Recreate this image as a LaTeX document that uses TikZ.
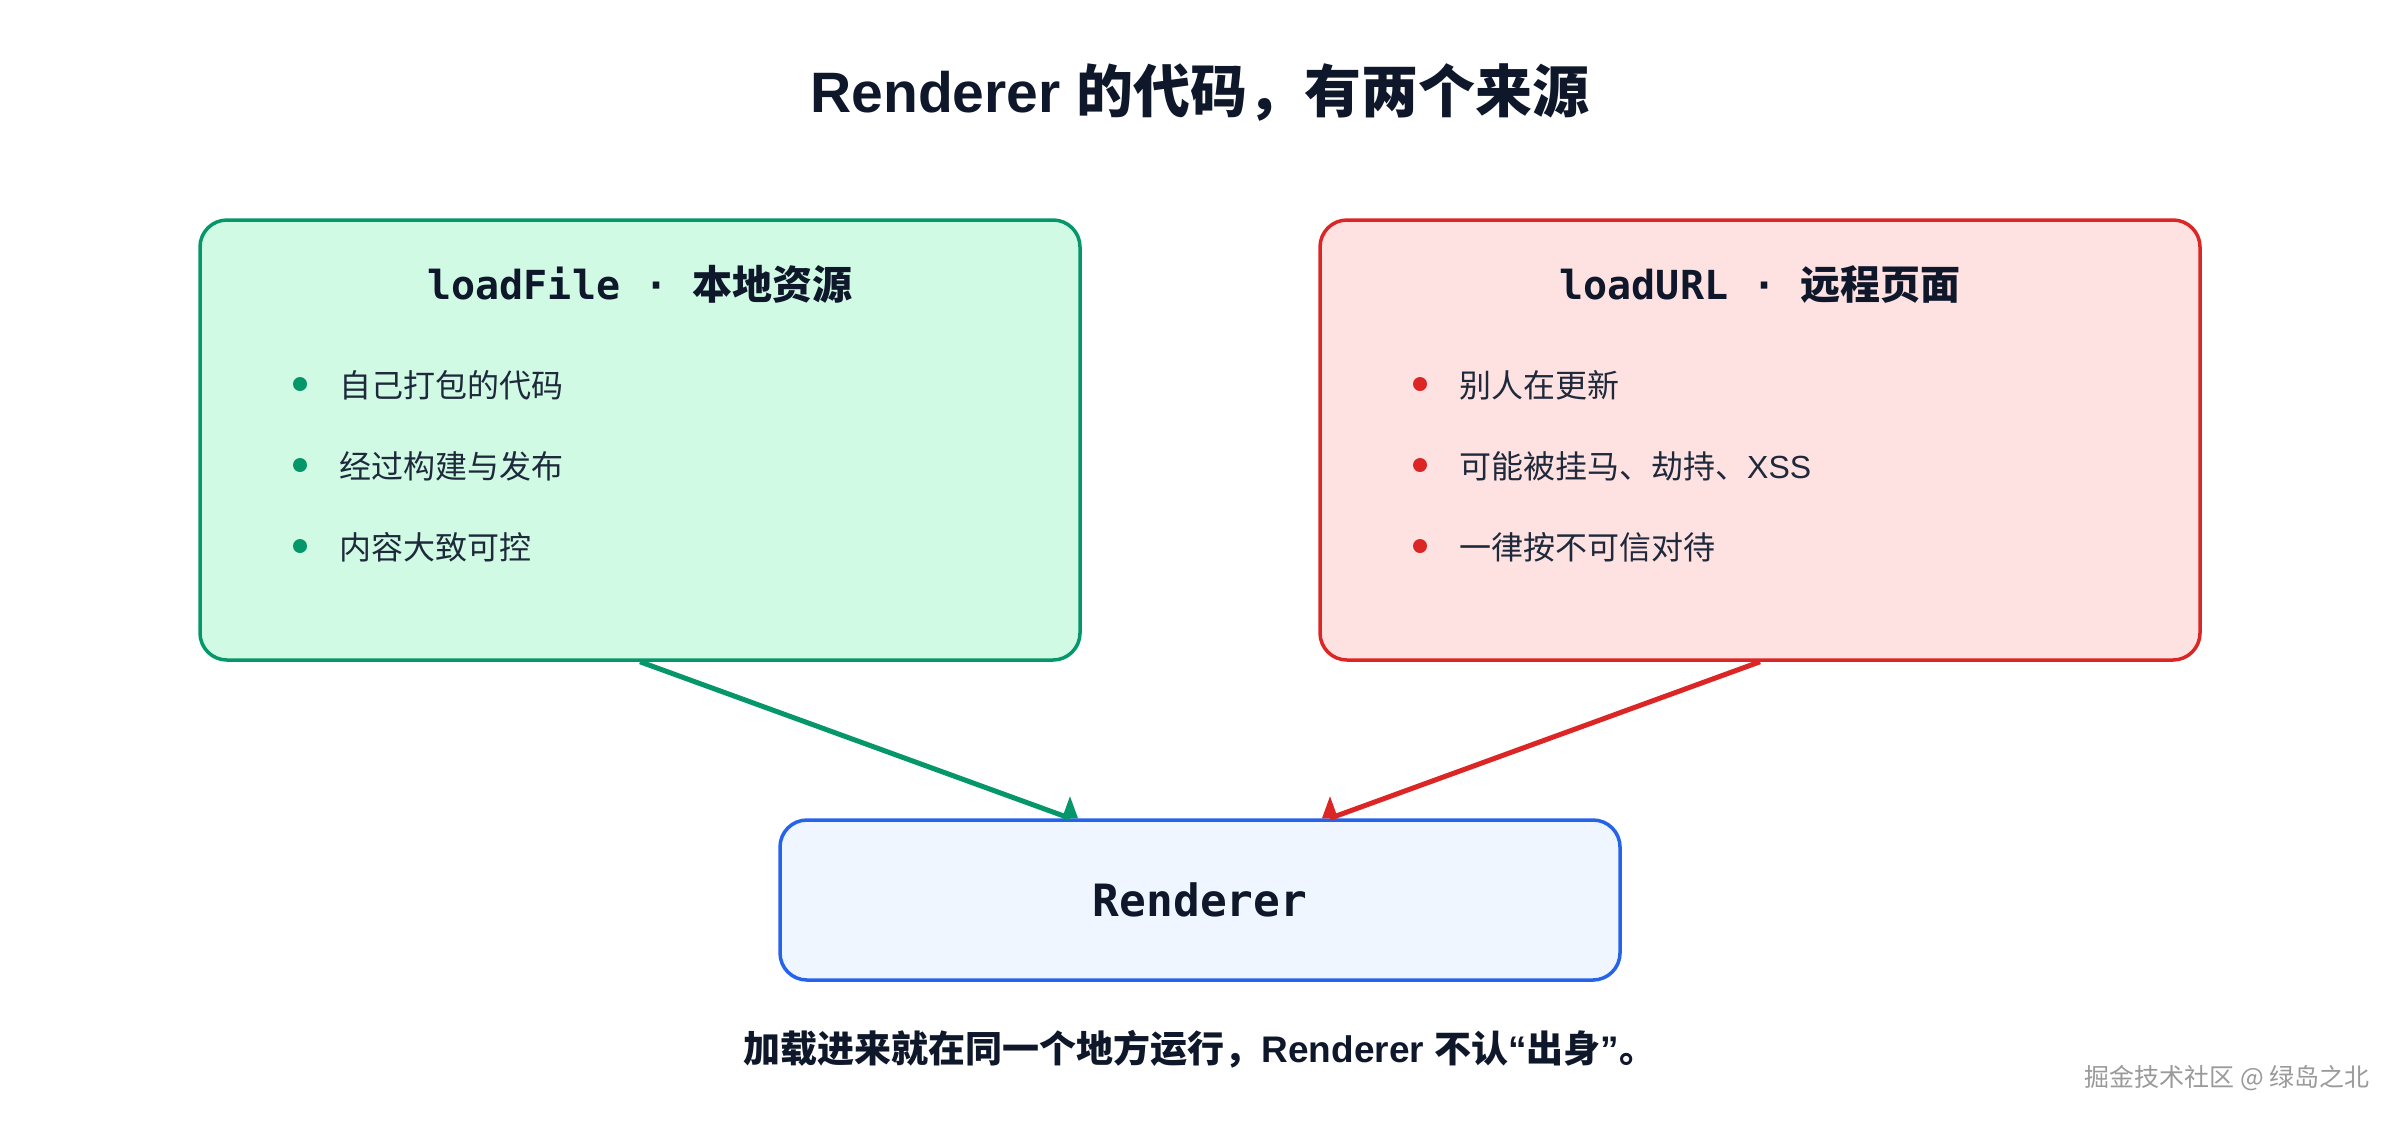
\documentclass[tikz,border=0pt]{standalone}
\usepackage{fontspec}
\setmainfont{Liberation Sans}
\newfontfamily\cjk{Noto Sans CJK SC}
\newfontfamily\monof{DejaVu Sans Mono}
\definecolor{gline}{HTML}{059669}
\definecolor{gfill}{HTML}{D1FAE5}
\definecolor{rline}{HTML}{DC2626}
\definecolor{rfill}{HTML}{FEE2E2}
\definecolor{bline}{HTML}{2563EB}
\definecolor{bfill}{HTML}{EFF6FF}
\definecolor{ttl}{HTML}{0F172A}
\definecolor{itemtxt}{HTML}{1E293B}
\definecolor{wm}{HTML}{9A9A9A}
\tikzset{
  box/.style={draw, line width=3.5pt, rounded corners=27pt, inner sep=0pt},
  gbox/.style={box, draw=gline, fill=gfill, minimum width=880pt, minimum height=440pt},
  rbox/.style={box, draw=rline, fill=rfill, minimum width=880pt, minimum height=440pt},
  bbox/.style={box, draw=bline, fill=bfill, minimum width=840pt, minimum height=160pt,
    text=ttl, font=\monof\bfseries\fontsize{44.5}{53}\selectfont},
  boxtitle/.style={anchor=base, inner sep=0pt, text=ttl, font=\monof\bfseries\fontsize{40}{48}\selectfont},
  dotg/.style={circle, inner sep=0pt, minimum size=14pt, fill=gline},
  dotr/.style={circle, inner sep=0pt, minimum size=14pt, fill=rline},
  item/.style={anchor=west, inner sep=0pt, text=itemtxt, font=\cjk\fontsize{32}{38}\selectfont},
  gconn/.style={draw=gline, line width=5pt},
  rconn/.style={draw=rline, line width=5pt}
}
\begin{document}
\begin{tikzpicture}[x=1pt,y=-1pt]
\useasboundingbox (0,0) rectangle (2400,1120);
\fill[white] (0,0) rectangle (2400,1120);

% title
\node[anchor=base, inner sep=0pt, text=ttl, font=\bfseries\fontsize{57}{68}\selectfont] (title) at (1200,112) {Renderer {\cjk 的代码，有两个来源}};

% boxes
\node[gbox] (lf) at (640,440) {};
\node[rbox] (lu) at (1760,440) {};
\node[bbox] (rd) at (1200,900) {Renderer};

% box titles
\node[boxtitle] (lft) at (640,299) {loadFile · {\cjk\bfseries 本地资源}};
\node[boxtitle] (lut) at (1760,299) {loadURL · {\cjk\bfseries 远程页面}};

% left bullets
\node[dotg] (gd1) at (300,384) {};
\node[dotg] (gd2) at (300,465) {};
\node[dotg] (gd3) at (300,546) {};
\node[item] (gi1) at (339,385) {自己打包的代码};
\node[item] (gi2) at (339,466) {经过构建与发布};
\node[item] (gi3) at (339,547) {内容大致可控};

% right bullets
\node[dotr] (rd1) at (1420,384) {};
\node[dotr] (rd2) at (1420,465) {};
\node[dotr] (rd3) at (1420,546) {};
\node[item] (ri1) at (1459,385) {别人在更新};
\node[item] (ri2) at (1459,466) {可能被挂马、劫持、{\rmfamily XSS}};
\node[item] (ri3) at (1459,547) {一律按不可信对待};

% connectors
\draw[gconn] (lf.south) -- ([xshift=-130pt]rd.north) coordinate (gend);
\fill[gline] ([xshift=-8pt]gend) -- ([xshift=8pt]gend) -- ([yshift=22pt]gend) -- cycle;
\draw[rconn] (lu.south) -- ([xshift=130pt]rd.north) coordinate (rend);
\fill[rline] ([xshift=-8pt]rend) -- ([xshift=8pt]rend) -- ([yshift=22pt]rend) -- cycle;

% note
\node[anchor=base, inner sep=0pt, text=ttl, font=\bfseries\fontsize{37}{44}\selectfont] (note) at (1200,1062) {{\cjk 加载进来就在同一个地方运行，}Renderer {\cjk 不认}“{\cjk 出身}”{\cjk 。}};

% watermark
\node[anchor=east, inner sep=0pt, text=wm, font=\cjk\fontsize{25}{30}\selectfont] (wmk) at (2370,1078) {掘金技术社区 @ 绿岛之北};
\end{tikzpicture}
\end{document}
